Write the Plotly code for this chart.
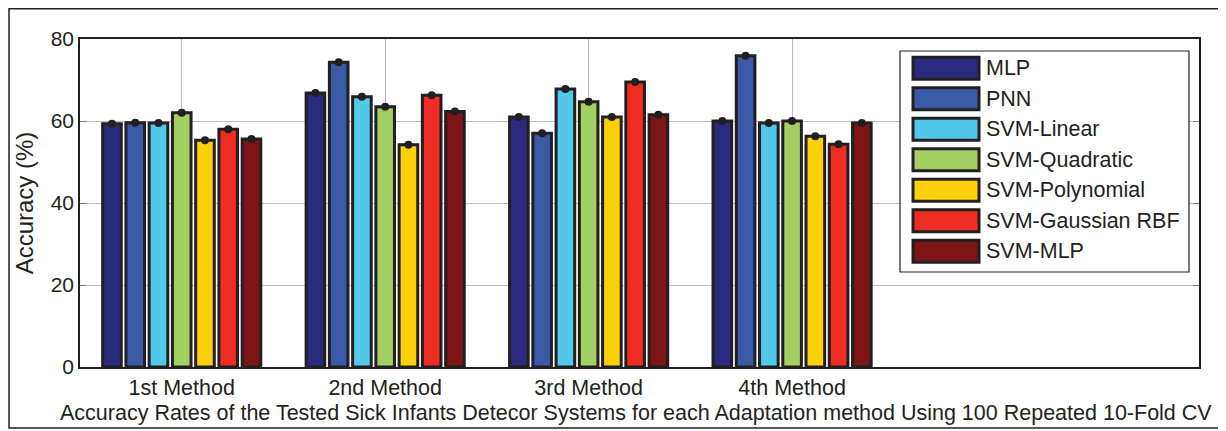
import plotly.graph_objects as go

categories = ["1st Method", "2nd Method", "3rd Method", "4th Method"]
series_names = ["MLP", "PNN", "SVM-Linear", "SVM-Quadratic", "SVM-Polynomial", "SVM-Gaussian RBF", "SVM-MLP"]
mlp = [59.3, 66.8, 61.0, 60.0]
pnn = [59.6, 74.3, 57.0, 75.9]
svm_linear = [59.5, 65.9, 67.8, 59.5]
svm_quadratic = [62.0, 63.5, 64.7, 60.0]
svm_polynomial = [55.3, 54.2, 61.0, 56.3]
svm_gaussian = [58.0, 66.3, 69.5, 54.3]
svm_mlp = [55.6, 62.3, 61.5, 59.5]
series_values = [mlp, pnn, svm_linear, svm_quadratic, svm_polynomial, svm_gaussian, svm_mlp]
colors = ["#2a2a7e", "#3a5aa8", "#52c8ea", "#a3cf62", "#fdd00a", "#ee2c24", "#7d1416"]
y_ticks = [0, 20, 40, 60, 80]

FONT = "Liberation Sans, Arial, sans-serif"
INK = "#231f20"
GRID = "#bdbdbd"
BARGAP = 0.2
n = len(series_names)
xs = [i + 1 for i in range(len(categories))]

fig = go.Figure()
for name, vals, col in zip(series_names, series_values, colors):
    fig.add_trace(go.Bar(x=xs, y=vals, name=name, marker=dict(color=col, line=dict(color=INK, width=3)),
                         showlegend=False))

# dots at bar tops
group_w = 1 - BARGAP
slot = group_w / n
for j, (name, vals) in enumerate(zip(series_names, series_values)):
    fig.add_trace(go.Scatter(x=[c - group_w / 2 + slot * (j + 0.5) for c in xs], y=vals, mode="markers",
                             marker=dict(color=INK, size=8), showlegend=False, hoverinfo="skip"))

# page body has an 8px margin; work in reference-pixel coordinates
OFF = 8
W, H = 1226 - OFF, 431 - OFF
L, T = 80 - OFF, 39 - OFF
R = W - (1199 - OFF)
B = H - (367 - OFF)
pw, ph = W - L - R, H - T - B

def px(xp):
    return (xp - OFF - L) / pw

def py(yp):
    return (H - B - (yp - OFF)) / ph

shapes = []
annotations = []
# outer frame
shapes.append(dict(type="rect", xref="paper", yref="paper", x0=px(9), x1=px(1220), y0=py(428), y1=py(8.8),
                   line=dict(color=INK, width=1.5), layer="below"))
# legend box
shapes.append(dict(type="rect", xref="paper", yref="paper", x0=px(900), x1=px(1189), y0=py(272), y1=py(51),
                   line=dict(color=INK, width=1.2), fillcolor="white", layer="above"))
for i, (name, col) in enumerate(zip(series_names, colors)):
    cy = 68.3 + 30.5 * i
    shapes.append(dict(type="rect", xref="paper", yref="paper", x0=px(913), x1=px(979), y0=py(cy + 11), y1=py(cy - 11),
                       line=dict(color=INK, width=3), fillcolor=col, layer="above"))
    annotations.append(dict(xref="paper", yref="paper", x=px(984), y=py(cy), text=name, showarrow=False,
                            xanchor="left", yanchor="middle", font=dict(family=FONT, size=21.5, color=INK)))

annotations.append(dict(xref="paper", yref="paper", x=px(636), y=py(413), showarrow=False, xanchor="center", yanchor="middle",
                        text="Accuracy Rates of the Tested Sick Infants Detecor Systems for each Adaptation method Using 100 Repeated 10-Fold CV",
                        font=dict(family=FONT, size=21.5, color=INK)))

fig.update_layout(
    width=W, height=H,
    margin=dict(l=L, r=R, t=T, b=B),
    paper_bgcolor="white", plot_bgcolor="white",
    barmode="group", bargap=BARGAP, bargroupgap=0.2,
    shapes=shapes, annotations=annotations,
    font=dict(family=FONT, size=21, color=INK),
)
fig.update_xaxes(range=[0.5, 6.0], tickvals=xs, ticktext=categories, showgrid=True, gridcolor=GRID, gridwidth=1,
                 showline=True, linecolor=INK, linewidth=1.5, mirror=True, ticks="", zeroline=False,
                 tickfont=dict(family=FONT, size=21.5, color=INK))
fig.update_yaxes(range=[0, 80], tickvals=y_ticks, showgrid=True, gridcolor=GRID, gridwidth=1,
                 showline=True, linecolor=INK, linewidth=1.5, mirror="ticks", ticks="inside", ticklen=6, tickcolor="#777",
                 zeroline=False, tickfont=dict(family=FONT, size=21, color=INK),
                 title=dict(text="Accuracy (%)", standoff=10, font=dict(family=FONT, size=24, color=INK)))

fig.write_html("out.html")
